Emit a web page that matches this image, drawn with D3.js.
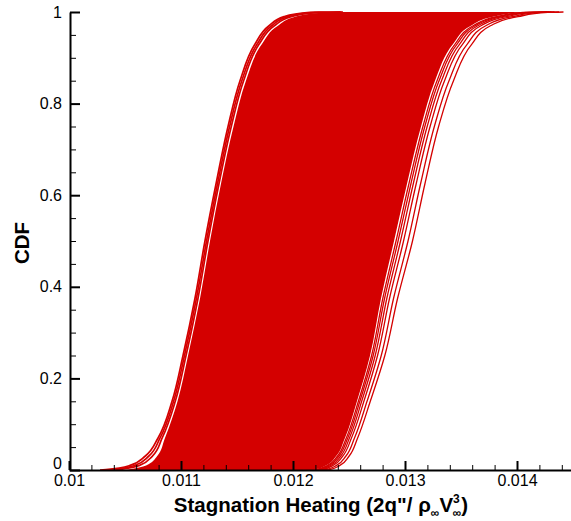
<!DOCTYPE html>
<html><head><meta charset="utf-8">
<script src="https://cdn.jsdelivr.net/npm/d3@7"></script>
<style>body{margin:0;background:#fff} svg text{font-family:"Liberation Sans",Arial,sans-serif}</style>
</head><body><svg id="c" width="571" height="521"></svg>
<script>
// CDF probability levels at which each curve's quantiles were read
const cdfLevels = [0, 0.001, 0.01, 0.03, 0.07, 0.15, 0.25, 0.375, 0.5, 0.625, 0.75, 0.85, 0.93, 0.97, 0.99, 0.999, 1];

// left-most bundle of curves
const leftCurve1 = [0.010277, 0.010330, 0.010545, 0.010679, 0.010795, 0.010920, 0.011018, 0.011125, 0.011214, 0.011313, 0.011420, 0.011527, 0.011661, 0.011786, 0.011920, 0.012152, 0.012420];
const leftCurve2 = [0.010344, 0.010389, 0.010588, 0.010711, 0.010813, 0.010934, 0.011031, 0.011138, 0.011228, 0.011326, 0.011434, 0.011543, 0.011680, 0.011810, 0.011952, 0.012192, 0.012433];
const leftCurve3 = [0.010411, 0.010448, 0.010630, 0.010743, 0.010832, 0.010949, 0.011045, 0.011152, 0.011241, 0.011339, 0.011449, 0.011559, 0.011698, 0.011834, 0.011984, 0.012232, 0.012446];

// envelope of the dense (solid) band of curves
const denseLeftEdge  = [0.010500, 0.010527, 0.010688, 0.010786, 0.010857, 0.010969, 0.011063, 0.011170, 0.011259, 0.011357, 0.011469, 0.011580, 0.011723, 0.011866, 0.012027, 0.012286, 0.012464];
const denseRightEdge = [0.012063, 0.012188, 0.012295, 0.012384, 0.012464, 0.012571, 0.012688, 0.012786, 0.012902, 0.013018, 0.013143, 0.013268, 0.013429, 0.013589, 0.013795, 0.014027, 0.014250];

// separated curves on the right
const rightCurve1 = [0.012079, 0.012203, 0.012308, 0.012396, 0.012476, 0.012584, 0.012702, 0.012802, 0.012920, 0.013035, 0.013160, 0.013286, 0.013447, 0.013608, 0.013818, 0.014054, 0.014268];
const rightCurve2 = [0.012095, 0.012218, 0.012321, 0.012409, 0.012489, 0.012597, 0.012716, 0.012818, 0.012938, 0.013053, 0.013177, 0.013304, 0.013465, 0.013627, 0.013841, 0.014080, 0.014286];
const rightCurve3 = [0.012115, 0.012237, 0.012338, 0.012425, 0.012504, 0.012613, 0.012734, 0.012838, 0.012960, 0.013074, 0.013198, 0.013326, 0.013488, 0.013650, 0.013870, 0.014114, 0.014308];
const rightCurve4 = [0.012139, 0.012260, 0.012358, 0.012443, 0.012522, 0.012633, 0.012755, 0.012862, 0.012987, 0.013100, 0.013224, 0.013353, 0.013515, 0.013678, 0.013905, 0.014154, 0.014335];
const rightCurve5 = [0.012175, 0.012294, 0.012388, 0.012471, 0.012549, 0.012661, 0.012788, 0.012898, 0.013027, 0.013139, 0.013262, 0.013393, 0.013556, 0.013721, 0.013957, 0.014214, 0.014375];
const rightCurve6 = [0.012211, 0.012328, 0.012419, 0.012500, 0.012577, 0.012690, 0.012820, 0.012934, 0.013067, 0.013178, 0.013300, 0.013433, 0.013597, 0.013763, 0.014009, 0.014275, 0.014415];

const xMajorTicks = [0.01, 0.011, 0.012, 0.013, 0.014];
const xTickLabels = ["0.01", "0.011", "0.012", "0.013", "0.014"];
const yMajorTicks = [0, 0.2, 0.4, 0.6, 0.8, 1];
const yTickLabels = ["0", "0.2", "0.4", "0.6", "0.8", "1"];
const xMinorStep = 0.0002;
const yMinorStep = 0.05;

const RED = "#d40000";
const svg = d3.select("#c");
const x = d3.scaleLinear().domain([0.01, 0.0145]).range([69, 573]);
const y = d3.scaleLinear().domain([0, 1]).range([470, 12]);

// dense band
const band = cdfLevels.map((p, i) => ({p, l: denseLeftEdge[i], r: denseRightEdge[i]})).reverse();
svg.append("path").datum(band)
  .attr("fill", RED)
  .attr("d", d3.area().y(d => y(d.p)).x0(d => x(d.l)).x1(d => x(d.r)).curve(d3.curveMonotoneY));

// individual curves
const line = d3.line().y(d => y(d.p)).x(d => x(d.v)).curve(d3.curveMonotoneY);
function drawCurve(c, w) {
  svg.append("path")
    .datum(cdfLevels.map((p, i) => ({p, v: c[i]})).reverse())
    .attr("fill", "none").attr("stroke", RED).attr("stroke-width", w)
    .attr("d", line);
}
[leftCurve1, leftCurve2, leftCurve3].forEach(c => drawCurve(c, 1.7));
[rightCurve1, rightCurve2, rightCurve3, rightCurve4, rightCurve5, rightCurve6].forEach(c => drawCurve(c, 1.3));

// minor ticks
const xMinor = d3.range(Math.round((0.0145 - 0.01) / xMinorStep) + 1).map(i => 0.01 + i * xMinorStep)
  .filter(v => !xMajorTicks.some(t => Math.abs(t - v) < 1e-9));
const yMinor = d3.range(Math.round(1 / yMinorStep) + 1).map(i => i * yMinorStep)
  .filter(v => !yMajorTicks.some(t => Math.abs(t - v) < 1e-9));

const gx = svg.append("g").attr("transform", "translate(0,470)");
gx.append("g").call(d3.axisBottom(x).tickValues(xMinor).tickSize(-5).tickFormat(""))
  .call(g => g.select(".domain").remove())
  .call(g => g.selectAll("line").attr("stroke", "#000").attr("stroke-width", 1));
gx.append("g").call(d3.axisBottom(x).tickValues(xMajorTicks).tickSize(-9).tickSizeOuter(0).tickPadding(5)
    .tickFormat((d, i) => xTickLabels[i]))
  .call(g => g.select(".domain").attr("stroke", "#000").attr("stroke-width", 2))
  .call(g => g.selectAll("line").attr("stroke", "#000").attr("stroke-width", 2))
  .call(g => g.selectAll("text").attr("font-size", 16).attr("fill", "#000").attr("font-family", "Liberation Sans, Arial, sans-serif"));

const gy = svg.append("g").attr("transform", "translate(70,0)");
gy.append("g").call(d3.axisLeft(y).tickValues(yMinor).tickSize(-6).tickFormat(""))
  .call(g => g.select(".domain").remove())
  .call(g => g.selectAll("line").attr("stroke", "#000").attr("stroke-width", 1));
gy.append("g").call(d3.axisLeft(y).tickValues(yMajorTicks).tickSize(-10).tickSizeOuter(0).tickPadding(8)
    .tickFormat((d, i) => yTickLabels[i]))
  .call(g => g.select(".domain").attr("stroke", "#000").attr("stroke-width", 2))
  .call(g => g.selectAll("line").attr("stroke", "#000").attr("stroke-width", 2))
  .call(g => g.selectAll("text").attr("font-size", 16).attr("fill", "#000").attr("font-family", "Liberation Sans, Arial, sans-serif"))
  .call(g => g.selectAll(".tick").filter(d => d === 0).select("text").attr("dy", "-0.12em"));

// axis titles
const xt = svg.append("text").attr("x", 321).attr("y", 512).attr("text-anchor", "middle")
  .attr("font-size", 20.5).attr("font-weight", "bold").attr("fill", "#000");
xt.append("tspan").text("Stagnation Heating (2q\"/ \u03C1");
xt.append("tspan").attr("font-size", 12).attr("dy", 5).text("\u221E");
xt.append("tspan").attr("dy", -5).text("V");
xt.append("tspan").attr("font-size", 12).attr("dy", -9).text("3");
xt.append("tspan").attr("font-size", 12).attr("dx", -7).attr("dy", 14).text("\u221E");
xt.append("tspan").attr("dy", -5).text(")");

svg.append("text").attr("transform", "translate(29,243) rotate(-90)").attr("text-anchor", "middle")
  .attr("font-size", 20.5).attr("font-weight", "bold").attr("fill", "#000").text("CDF");
</script></body></html>
